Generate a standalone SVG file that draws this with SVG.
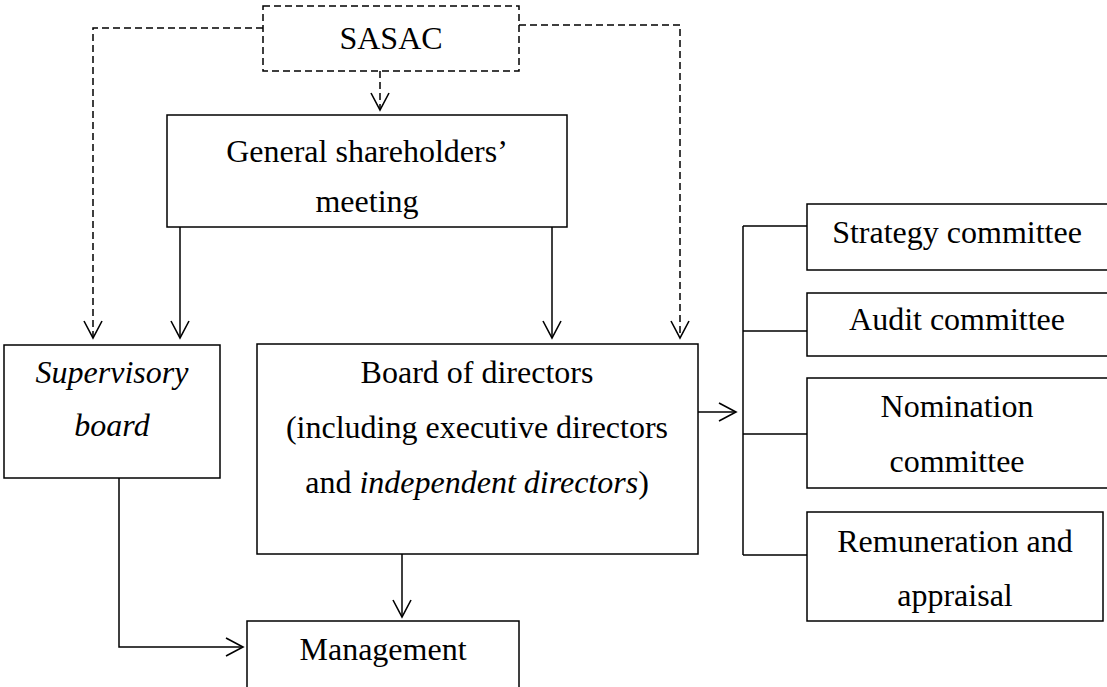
<svg xmlns="http://www.w3.org/2000/svg" width="1107" height="687" viewBox="0 0 1107 687">
<style>
  .box{fill:#fff;stroke:#000;stroke-width:1.5}
  .dbox{fill:#fff;stroke:#000;stroke-width:1.5;stroke-dasharray:7 4}
  .t{font-family:'Liberation Serif','DejaVu Serif',serif;font-size:32px;fill:#000;text-anchor:middle}
  .i{font-style:italic}
  .ln{fill:none;stroke:#000;stroke-width:1.5}
  .dl{fill:none;stroke:#000;stroke-width:1.5;stroke-dasharray:7 4}
</style>
<defs>
  <marker id="arr" viewBox="0 0 20 20" markerWidth="20" markerHeight="20" markerUnits="userSpaceOnUse" refX="18" refY="10" orient="auto">
    <path d="M1,1 L18,10 L1,19" fill="none" stroke="#000" stroke-width="1.6" stroke-dasharray="none"/>
  </marker>
</defs>
<rect width="1107" height="687" fill="#fff"/>
<g id="connectors">
  <path class="dl" d="M263,28 H93 V338" marker-end="url(#arr)"/>
  <path class="dl" d="M519,25 H680 V338" marker-end="url(#arr)"/>
  <path class="dl" d="M380,71 V110" marker-end="url(#arr)"/>
  <path class="ln" d="M180,227 V338" marker-end="url(#arr)"/>
  <path class="ln" d="M552,227 V338" marker-end="url(#arr)"/>
  <path class="ln" d="M698,412 H736" marker-end="url(#arr)"/>
  <path class="ln" d="M743,226 V555"/>
  <path class="ln" d="M743,226 H807 M743,331 H807 M743,434 H807 M743,555 H807"/>
  <path class="ln" d="M119,478 V647 H243" marker-end="url(#arr)"/>
  <path class="ln" d="M402,554 V617" marker-end="url(#arr)"/>
</g>
<g id="sasac">
  <rect class="dbox" x="263" y="6" width="256" height="65"/>
  <text class="t" x="391" y="49">SASAC</text>
</g>
<g id="gsm">
  <rect class="box" x="167" y="115" width="400" height="112"/>
  <text class="t" x="367" y="162">General shareholders’</text>
  <text class="t" x="367" y="212">meeting</text>
</g>
<g id="supervisory">
  <rect class="box" x="4" y="345" width="216" height="133"/>
  <text class="t i" x="112" y="383">Supervisory</text>
  <text class="t i" x="112" y="436">board</text>
</g>
<g id="board">
  <rect class="box" x="257" y="344" width="441" height="210"/>
  <text class="t" x="477" y="383">Board of directors</text>
  <text class="t" x="477" y="438">(including executive directors</text>
  <text class="t" x="477" y="493">and <tspan class="i">independent directors</tspan>)</text>
</g>
<g id="management">
  <rect class="box" x="247" y="621" width="272" height="70"/>
  <text class="t" x="383" y="660">Management</text>
</g>
<g id="strategy">
  <rect class="box" x="807" y="204" width="302" height="66"/>
  <text class="t" x="957" y="243">Strategy committee</text>
</g>
<g id="audit">
  <rect class="box" x="807" y="293" width="302" height="63"/>
  <text class="t" x="957" y="330">Audit committee</text>
</g>
<g id="nomination">
  <rect class="box" x="807" y="378" width="302" height="110"/>
  <text class="t" x="957" y="417">Nomination</text>
  <text class="t" x="957" y="472">committee</text>
</g>
<g id="remuneration">
  <rect class="box" x="807" y="512" width="296" height="109"/>
  <text class="t" x="955" y="552">Remuneration and</text>
  <text class="t" x="955" y="606">appraisal</text>
</g>
</svg>
